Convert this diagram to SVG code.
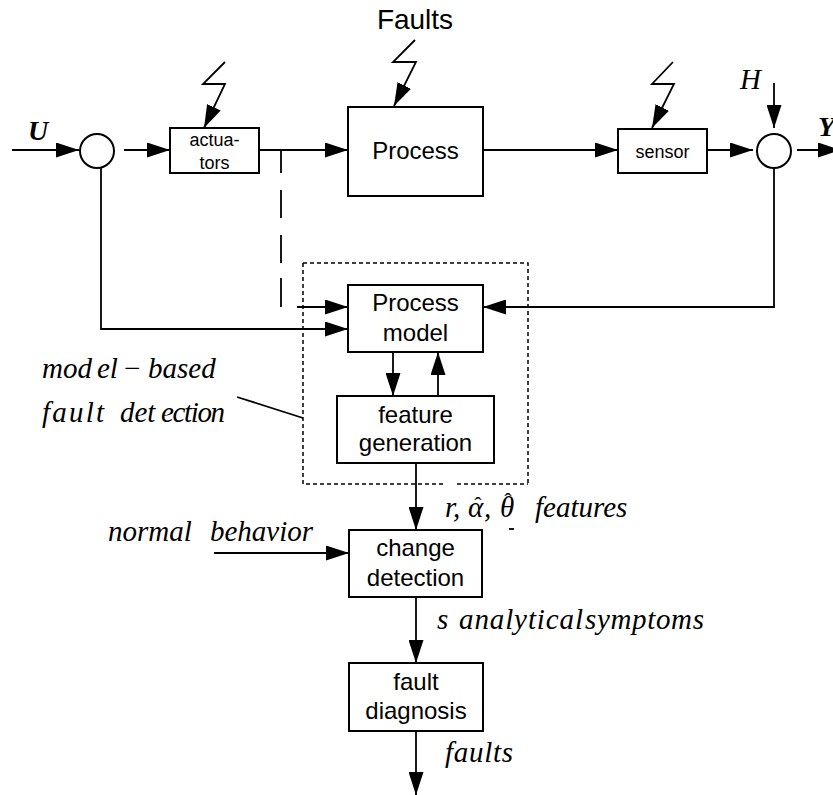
<svg xmlns="http://www.w3.org/2000/svg" width="833" height="795" viewBox="0 0 833 795">
  <defs>
    <marker id="arrow" markerUnits="userSpaceOnUse" markerWidth="23" markerHeight="15" refX="23" refY="7.5" orient="auto">
      <path d="M0,0 L23,7.5 L0,15 z" fill="#000"/>
    </marker>
    <style>
      .box { fill: #fff; stroke: #000; stroke-width: 2; }
      .ring { fill: #fff; stroke: #000; stroke-width: 2; }
      .wire { fill: none; stroke: #000; stroke-width: 1.8; }
      .arr { marker-end: url(#arrow); }
      .dashed { fill: none; stroke: #000; stroke-width: 1.8; }
      .dotted { fill: none; stroke: #000; stroke-width: 1.5; stroke-dasharray: 4 3; }
      .sans { font-family: "Liberation Sans", Arial, sans-serif; fill: #000; text-anchor: middle; }
      .big { font-size: 24px; }
      .small { font-size: 18px; }
      .math { font-family: "Liberation Serif", "Times New Roman", serif; font-style: italic; font-size: 29px; fill: #000; }
      .hat { font-style: normal; font-size: 22px; }
      .vec { font-family: "Liberation Serif", "Times New Roman", serif; font-style: italic; font-weight: bold; font-size: 28px; fill: #000; }
    </style>
  </defs>

  <rect width="833" height="795" fill="#fff"/>

  <!-- title above the process -->
  <text class="sans" x="415" y="29" font-size="28">Faults</text>

  <!-- connectors -->
  <g id="connectors">
    <path class="wire arr" d="M12,150 H79"/>
    <path class="wire arr" d="M124,150 H170"/>
    <path class="wire arr" d="M259,150 H348"/>
    <path class="wire arr" d="M483,150 H618"/>
    <path class="wire arr" d="M707,150 H753"/>
    <path class="wire arr" d="M797,150 H841"/>
    <path class="wire arr" d="M774,83 V128"/>
    <!-- input feedback into the model -->
    <path class="wire arr" d="M101,168 V329 H348"/>
    <!-- actuator output tap (dashed) -->
    <path class="dashed" d="M281,150 V173 M281,190 V218 M281,235 V263 M281,278 V307"/>
    <path class="wire arr" d="M297,307 H348"/>
    <!-- measured output into the model -->
    <path class="wire arr" d="M774,168 V307 H483"/>
    <path class="wire arr" d="M393,352 V396"/>
    <path class="wire arr" d="M438,396 V352"/>
    <path class="wire arr" d="M416,463 V530"/>
    <path class="wire arr" d="M214,553 H349"/>
    <path class="wire arr" d="M416,597 V663"/>
    <path class="wire arr" d="M416,731 V795"/>
    <!-- fault lightning bolts -->
    <path class="wire arr" d="M225,62 L203,84 L225,84 L204,128"/>
    <path class="wire arr" d="M415,40 L393,62 L416,62 L394,106"/>
    <path class="wire arr" d="M673,62 L652,84 L674,84 L652,128"/>
    <!-- leader for the model-based fault detection label -->
    <path class="wire" d="M237,397 L303,418"/>
  </g>

  <!-- model-based fault detection boundary -->
  <g id="fdi-boundary">
    <path class="dotted" d="M303,263 H528 V484 M303,263 V484 H443 M457,484 H528"/>
  </g>

  <g id="sum-in">
    <circle class="ring" cx="97" cy="151" r="17"/>
  </g>
  <g id="sum-out">
    <circle class="ring" cx="774" cy="151" r="17"/>
  </g>

  <g id="actuators">
    <rect class="box" x="170" y="128" width="89" height="45"/>
    <text class="sans small" x="214.5" y="146">actua-</text>
    <text class="sans small" x="214.5" y="169">tors</text>
  </g>

  <g id="process">
    <rect class="box" x="348" y="107" width="135" height="89"/>
    <text class="sans big" x="415.5" y="159">Process</text>
  </g>

  <g id="sensor">
    <rect class="box" x="618" y="129" width="89" height="44"/>
    <text class="sans small" x="662.5" y="158">sensor</text>
  </g>

  <g id="process-model">
    <rect class="box" x="348" y="285" width="135" height="67"/>
    <text class="sans big" x="415.5" y="311">Process</text>
    <text class="sans big" x="415.5" y="341">model</text>
  </g>

  <g id="feature-generation">
    <rect class="box" x="337" y="396" width="157" height="67"/>
    <text class="sans big" x="415.5" y="423">feature</text>
    <text class="sans big" x="415.5" y="451">generation</text>
  </g>

  <g id="change-detection">
    <rect class="box" x="349" y="530" width="133" height="67"/>
    <text class="sans big" x="415.5" y="556">change</text>
    <text class="sans big" x="415.5" y="586">detection</text>
  </g>

  <g id="fault-diagnosis">
    <rect class="box" x="349" y="663" width="134" height="68"/>
    <text class="sans big" x="416" y="690">fault</text>
    <text class="sans big" x="416" y="719">diagnosis</text>
  </g>

  <!-- signal labels -->
  <g id="labels">
    <text class="vec" x="28" y="140">U</text>
    <text class="vec" x="818" y="136">Y</text>
    <text class="math" x="740" y="89" font-size="28">H</text>

    <text class="math" y="378">
      <tspan x="42">mod</tspan><tspan x="97">el</tspan><tspan x="124" font-style="normal">−</tspan><tspan x="148">based</tspan>
    </text>
    <text class="math" y="422">
      <tspan x="42" textLength="62">fault</tspan><tspan x="120">det</tspan><tspan x="161" textLength="64">ection</tspan>
    </text>

    <!-- estimated residual / parameter features, hats set above the symbols -->
    <text class="math" y="517">
      <tspan x="445">r,</tspan><tspan x="468">α</tspan><tspan class="hat" x="474.3" y="512">ˆ</tspan><tspan x="484" y="517">,</tspan><tspan x="500">θ</tspan><tspan class="hat" x="504.3" y="508">ˆ</tspan><tspan x="535" y="517">features</tspan>
    </text>
    <path class="wire" d="M509,529 H514" stroke-width="1.5"/>

    <text class="math" y="541">
      <tspan x="108">normal</tspan><tspan x="210">behavior</tspan>
    </text>

    <text class="math" y="629">
      <tspan x="437">s</tspan><tspan x="459" textLength="124">analytical</tspan><tspan x="585" textLength="119">symptoms</tspan>
    </text>

    <text class="math" x="445" y="762" textLength="68">faults</text>
  </g>
</svg>
